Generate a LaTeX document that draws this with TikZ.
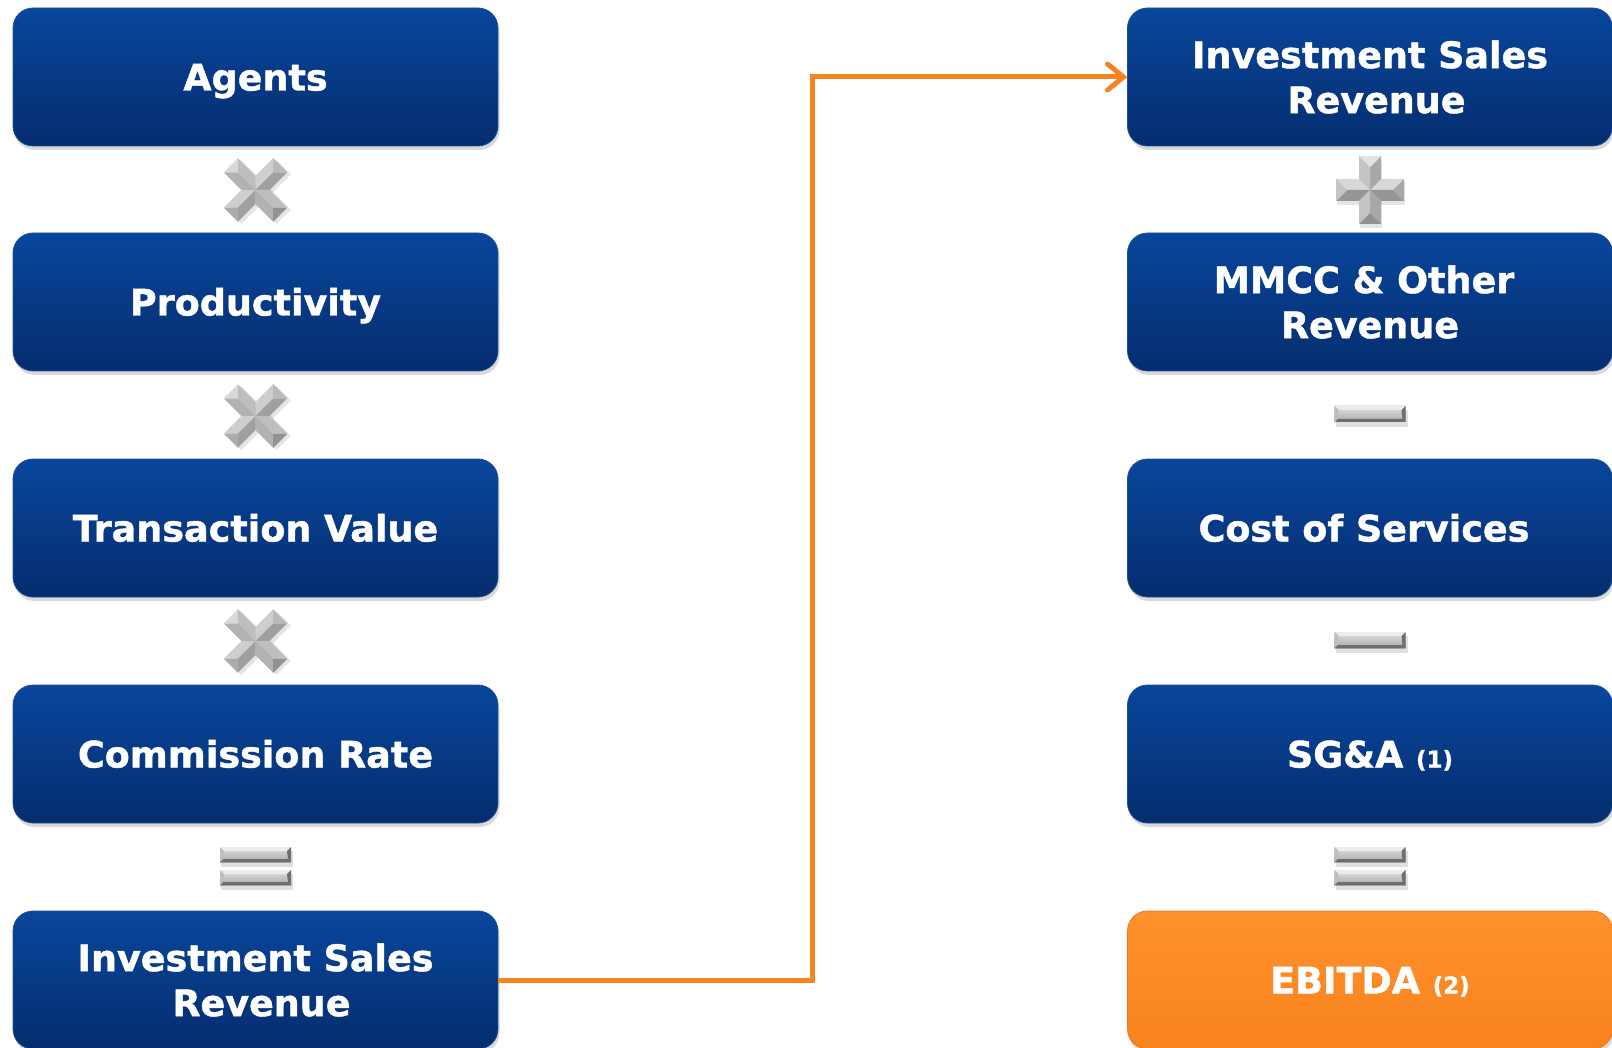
\documentclass[tikz,border=0pt]{standalone}
\usepackage{fontspec}
\setmainfont[BoldFeatures={FakeBold=1.2}]{DejaVu Sans}
\usetikzlibrary{shadows,arrows.meta}
\definecolor{boxtop}{RGB}{9,70,156}
\definecolor{boxbot}{RGB}{5,45,110}
\definecolor{boxedge}{RGB}{30,80,150}
\definecolor{orgtop}{RGB}{255,146,44}
\definecolor{orgbot}{RGB}{248,130,30}
\definecolor{orgedge}{RGB}{232,120,30}
\definecolor{orgline}{RGB}{247,133,31}
% plus facet colours
\definecolor{pRT}{RGB}{216,216,216}\definecolor{pRB}{RGB}{150,150,150}\definecolor{pRE}{RGB}{168,168,168}
\definecolor{pLT}{RGB}{216,216,216}\definecolor{pLB}{RGB}{150,150,150}\definecolor{pLE}{RGB}{196,196,196}
\definecolor{pUL}{RGB}{196,196,196}\definecolor{pUR}{RGB}{168,168,168}\definecolor{pUE}{RGB}{226,226,226}
\definecolor{pDL}{RGB}{196,196,196}\definecolor{pDR}{RGB}{168,168,168}\definecolor{pDE}{RGB}{145,145,145}
% cross facet colours (pic rotated 45 degrees)
\definecolor{xRT}{RGB}{206,206,206}\definecolor{xRB}{RGB}{160,160,160}\definecolor{xRE}{RGB}{186,186,186}
\definecolor{xLT}{RGB}{206,206,206}\definecolor{xLB}{RGB}{160,160,160}\definecolor{xLE}{RGB}{172,172,172}
\definecolor{xUL}{RGB}{178,178,178}\definecolor{xUR}{RGB}{190,190,190}\definecolor{xUE}{RGB}{216,216,216}
\definecolor{xDL}{RGB}{178,178,178}\definecolor{xDR}{RGB}{190,190,190}\definecolor{xDE}{RGB}{146,146,146}
\definecolor{gUp}{RGB}{236,236,236}
\definecolor{gLeft}{RGB}{190,190,190}
\definecolor{gFaceT}{RGB}{224,224,224}
\definecolor{gFaceB}{RGB}{170,170,170}
\definecolor{gEdgeD}{RGB}{110,110,110}
\tikzset{
  flowbox/.style={rounded corners=20pt, minimum width=485pt, minimum height=138pt,
    inner sep=0pt, outer sep=0pt, top color=boxtop, bottom color=boxbot,
    draw=boxedge, line width=0.8pt,
    drop shadow={shadow xshift=1.5pt, shadow yshift=-4pt, opacity=0.3},
    text=white, font=\bfseries\fontsize{36.5}{45}\selectfont, align=center},
  oneline/.style={text height=27pt, text depth=0pt},
  resultbox/.style={flowbox, top color=orgtop, bottom color=orgbot, draw=orgedge},
  link/.style={draw=orgline, line width=5pt,
    -{Straight Barb[length=16pt,width=26pt,line cap=round]}},
  pics/bevplus/.style n args={3}{code={
    \def\a{#1}\def\b{#2}
    \fill[black,opacity=.10] (-\a+1,-\b+4) rectangle (\a+1,\b+4);
    \fill[black,opacity=.10] (-\b+1,-\a+4) rectangle (\b+1,\a+4);
    \fill[#3RT] (0,0) -- (\b,-\b) -- (\a,-\b) -- ({\a-\b},0) -- cycle;
    \fill[#3RB] (0,0) -- (\b,\b) -- (\a,\b) -- ({\a-\b},0) -- cycle;
    \fill[#3RE] (\a,-\b) -- (\a,\b) -- ({\a-\b},0) -- cycle;
    \fill[#3LT] (0,0) -- (-\b,-\b) -- (-\a,-\b) -- ({-\a+\b},0) -- cycle;
    \fill[#3LB] (0,0) -- (-\b,\b) -- (-\a,\b) -- ({-\a+\b},0) -- cycle;
    \fill[#3LE] (-\a,-\b) -- (-\a,\b) -- ({-\a+\b},0) -- cycle;
    \fill[#3UL] (0,0) -- (-\b,-\b) -- (-\b,-\a) -- (0,{-\a+\b}) -- cycle;
    \fill[#3UR] (0,0) -- (\b,-\b) -- (\b,-\a) -- (0,{-\a+\b}) -- cycle;
    \fill[#3UE] (-\b,-\a) -- (\b,-\a) -- (0,{-\a+\b}) -- cycle;
    \fill[#3DL] (0,0) -- (-\b,\b) -- (-\b,\a) -- (0,{\a-\b}) -- cycle;
    \fill[#3DR] (0,0) -- (\b,\b) -- (\b,\a) -- (0,{\a-\b}) -- cycle;
    \fill[#3DE] (-\b,\a) -- (\b,\a) -- (0,{\a-\b}) -- cycle;
  }},
  pics/bevbar/.style 2 args={code={
    \def\a{#1}\def\b{#2}
    \fill[black,opacity=.12] ({-\a+1},{-\b+4}) rectangle ({\a+2},{\b+5});
    \shade[top color=gFaceT,bottom color=gFaceB] (-\a,-\b) rectangle (\a,\b);
    \fill[gUp] (-\a,-\b) -- (\a,-\b) -- ({\a-4},{-\b+4}) -- ({-\a+4},{-\b+4}) -- cycle;
    \fill[gEdgeD] (-\a,\b) -- (\a,\b) -- ({\a-3},{\b-3}) -- ({-\a+3},{\b-3}) -- cycle;
    \fill[gLeft] (-\a,-\b) -- ({-\a+4},{-\b+4}) -- ({-\a+3},{\b-3}) -- (-\a,\b) -- cycle;
    \fill[gEdgeD] (\a,-\b) -- ({\a-4},{-\b+4}) -- ({\a-3},{\b-3}) -- (\a,\b) -- cycle;
  }}
}
\begin{document}
\begin{tikzpicture}[x=1pt,y=-1pt]
\path[use as bounding box] (0,0) rectangle (1612,1048);
% left column
\node[flowbox,oneline] (agents) at (255.5,77) {Agents};
\node[flowbox,oneline] (prod) at (255.5,302) {Productivity};
\node[flowbox,oneline] (tval) at (255.5,528) {Transaction Value};
\node[flowbox,oneline] (crate) at (255.5,754) {Commission Rate};
\node[flowbox] (isrl) at (255.5,980) {Investment Sales\\\hspace*{12pt}Revenue};
% right column
\node[flowbox] (isrr) at (1370,77) {Investment Sales\\\hspace*{13pt}Revenue};
\node[flowbox] (mmcc) at (1370,302) {MMCC \& Other\hspace*{12pt}\\Revenue};
\node[flowbox,oneline] (cos) at (1370,528) {Cost of Services\hspace*{12pt}};
\node[flowbox,oneline] (sga) at (1370,754) {SG\&A {\fontsize{23}{28}\selectfont (1)}};
\node[resultbox,oneline] (ebitda) at (1370,980) {EBITDA {\fontsize{23}{28}\selectfont (2)}};
% operators left
\pic[rotate=45] at (255.5,190) {bevplus={35}{10}{x}};
\pic[rotate=45] at (255.5,416) {bevplus={35}{10}{x}};
\pic[rotate=45] at (255.5,641) {bevplus={35}{10}{x}};
\pic at (255.5,854.5) {bevbar={35.5}{7.5}};
\pic at (255.5,877.5) {bevbar={35.5}{7.5}};
% operators right
\pic at (1370,190) {bevplus={34}{11}{p}};
\pic at (1370,414) {bevbar={35.5}{8}};
\pic at (1370,640) {bevbar={35.5}{8}};
\pic at (1370,854.5) {bevbar={35.5}{7.5}};
\pic at (1370,877.5) {bevbar={35.5}{7.5}};
% connector
\coordinate (turn) at (812,500);
\draw[link] (isrl.east) -| (turn) |- (isrr.west);
\end{tikzpicture}
\end{document}
